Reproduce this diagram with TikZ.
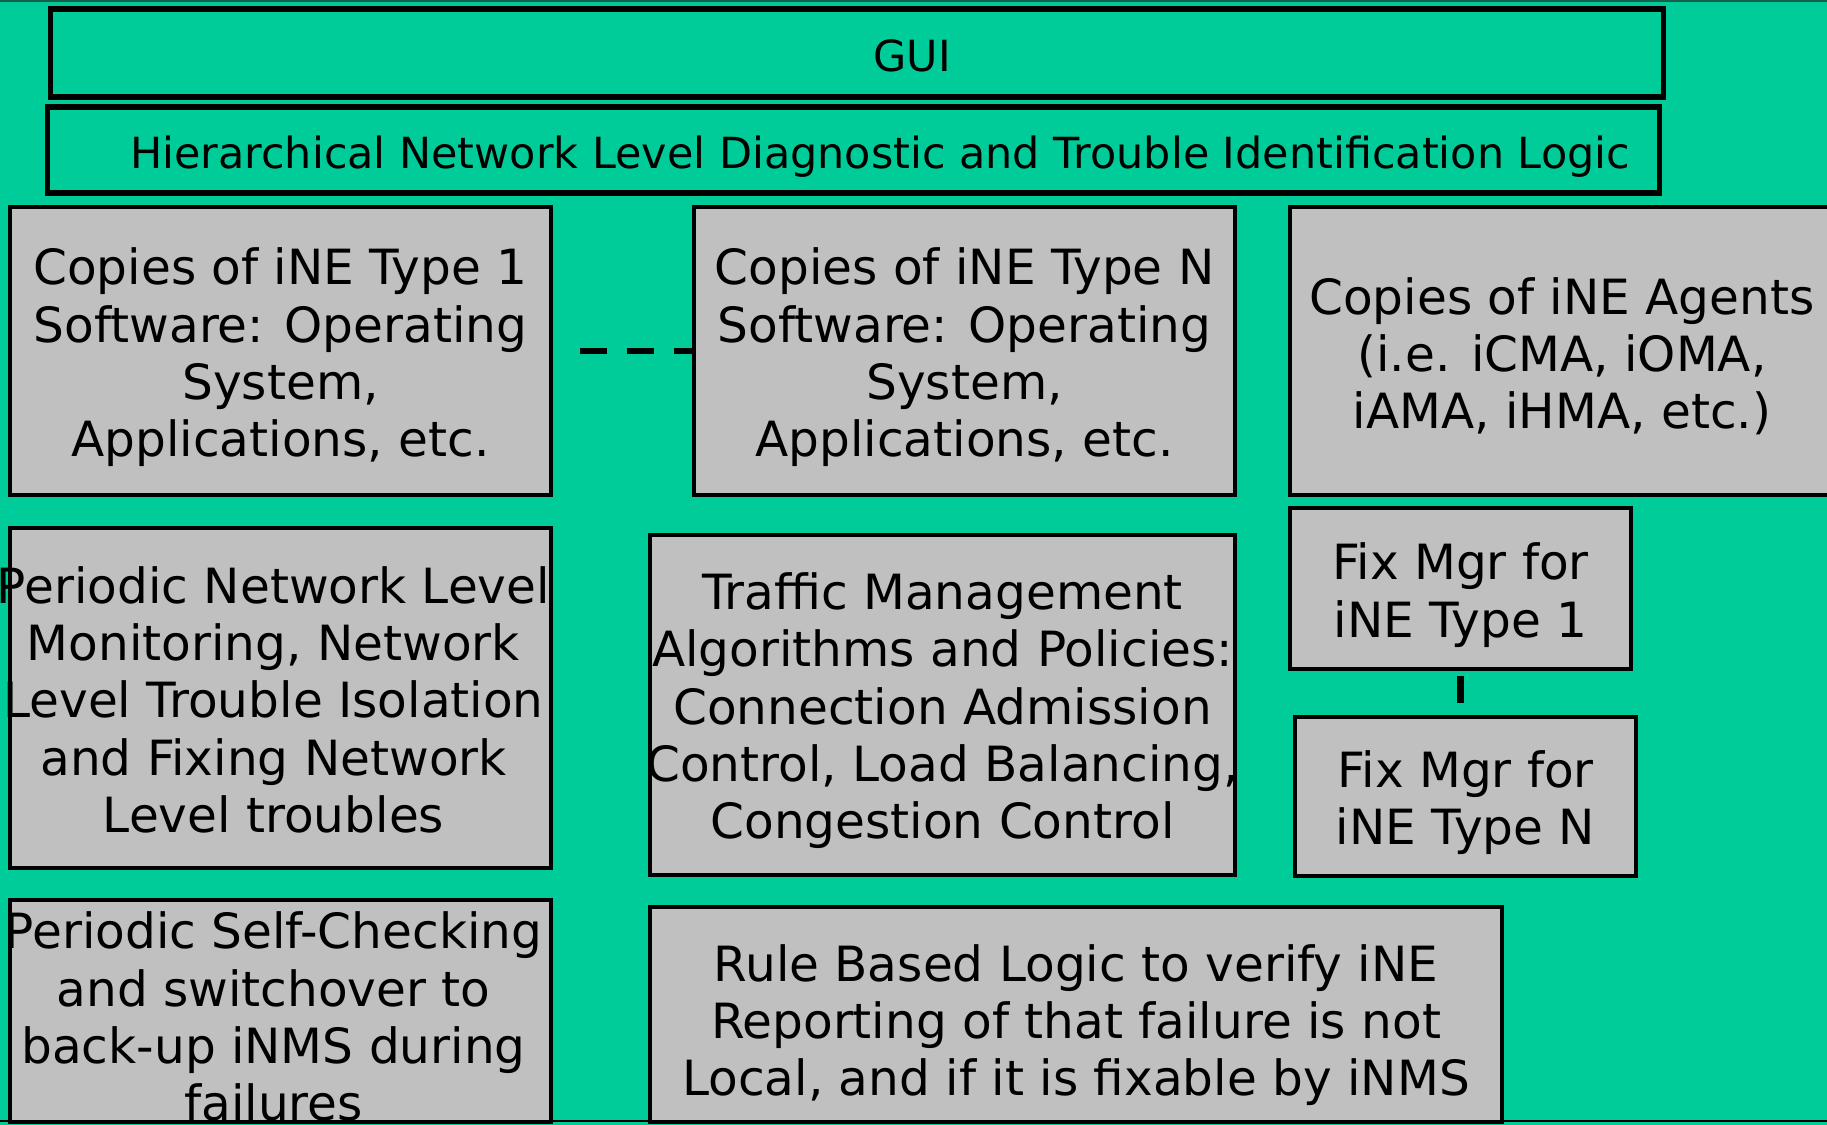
\documentclass[tikz,border=0pt]{standalone}
\usepackage{fontspec}
\setmainfont{DejaVu Sans}
\definecolor{bggreen}{RGB}{0,204,153}
\definecolor{boxgray}{RGB}{192,192,192}
\definecolor{framedark}{RGB}{25,95,75}
\tikzset{
  bar/.style={draw=black, line width=1.55pt, inner sep=0pt,
    font=\fontsize{12.2}{14.5}\selectfont},
  cell/.style={draw=black, fill=boxgray, line width=1.15pt, inner sep=0pt,
    font=\fontsize{13.8}{16.3}\selectfont},
  dashline/.style={line width=1.85pt, dash pattern=on 7.7pt off 5.7pt}
}
% centred lines that may run past the box edges
\newcommand{\celltext}[2][0.18cm]{\raisebox{-\dimexpr#1/2+.25em\relax}[0pt][0pt]{\makebox[0pt]{\begin{tabular}{@{}c@{}}#2\end{tabular}}}}

\begin{document}
\begin{tikzpicture}[x=0.01cm, y=-0.01cm]
    % Background
    \useasboundingbox (0,0) rectangle (1827,1125);
    \fill[bggreen] (0,0) rectangle (1827,1125);
    \draw[framedark, line width=0.8pt] (0,1) -- (1827,1);
    \draw[black, line width=0.6pt] (0,1121) -- (1827,1121);

    % Top bars
    \node[bar, minimum width=16.12cm, minimum height=0.88cm] (gui) at (857,53)
        {\hspace*{1.1cm}\celltext[0.154cm]{GUI}};
    \node[bar, minimum width=16.11cm, minimum height=0.86cm] (logic) at (853.5,150)
        {\hspace*{0.53cm}\celltext[0.16cm]{Hierarchical Network Level Diagnostic and Trouble Identification Logic}};

    % First row
    \node[cell, minimum width=5.41cm, minimum height=2.88cm] (typeone) at (280.5,351)
        {\celltext{Copies of iNE Type 1\\Software: Operating\\System,\\Applications, etc.}};
    \node[cell, minimum width=5.41cm, minimum height=2.88cm] (typen) at (964.5,351)
        {\celltext{Copies of iNE Type N\\Software: Operating\\System,\\Applications, etc.}};
    \node[cell, minimum width=5.44cm, minimum height=2.88cm] (agents) at (1562,351)
        {\celltext[0.19cm]{Copies of iNE Agents\\(i.e. iCMA, iOMA,\\iAMA, iHMA, etc.)}};

    % Second row
    \node[cell, minimum width=5.41cm, minimum height=3.40cm] (netmon) at (280.5,698)
        {\hspace*{-0.14cm}\celltext{Periodic Network Level\\Monitoring, Network\\Level Trouble Isolation\\and Fixing Network\\Level troubles}};
    \node[cell, minimum width=5.85cm, minimum height=3.40cm] (traffic) at (942.5,705)
        {\celltext[0.165cm]{Traffic Management\\Algorithms and Policies:\\Connection Admission\\Control, Load Balancing,\\Congestion Control}};
    \node[cell, minimum width=3.41cm, minimum height=1.61cm] (fixone) at (1460.5,588.5)
        {\celltext{Fix Mgr for\\iNE Type 1}};
    \node[cell, minimum width=3.41cm, minimum height=1.59cm] (fixn) at (1465.5,796.5)
        {\celltext[0.165cm]{Fix Mgr for\\iNE Type N}};

    % Third row
    \node[cell, minimum width=5.41cm, minimum height=2.22cm] (selfcheck) at (280.5,1011)
        {\hspace*{-0.14cm}\celltext[0.256cm]{Periodic Self-Checking\\and switchover to\\back-up iNMS during\\failures}};
    \node[cell, minimum width=8.52cm, minimum height=2.15cm] (rulelogic) at (1076,1014.5)
        {\celltext[0.264cm]{Rule Based Logic to verify iNE\\Reporting of that failure is not\\Local, and if it is fixable by iNMS}};

    % Dashed links
    \draw[dashline, shorten <=0.07cm, dash phase=7.7pt] (typeone.east) -- (typen.west);
    \draw[dashline, dash phase=11.9pt] (fixone.south) -- (fixone.south |- fixn.north);
\end{tikzpicture}
\end{document}
